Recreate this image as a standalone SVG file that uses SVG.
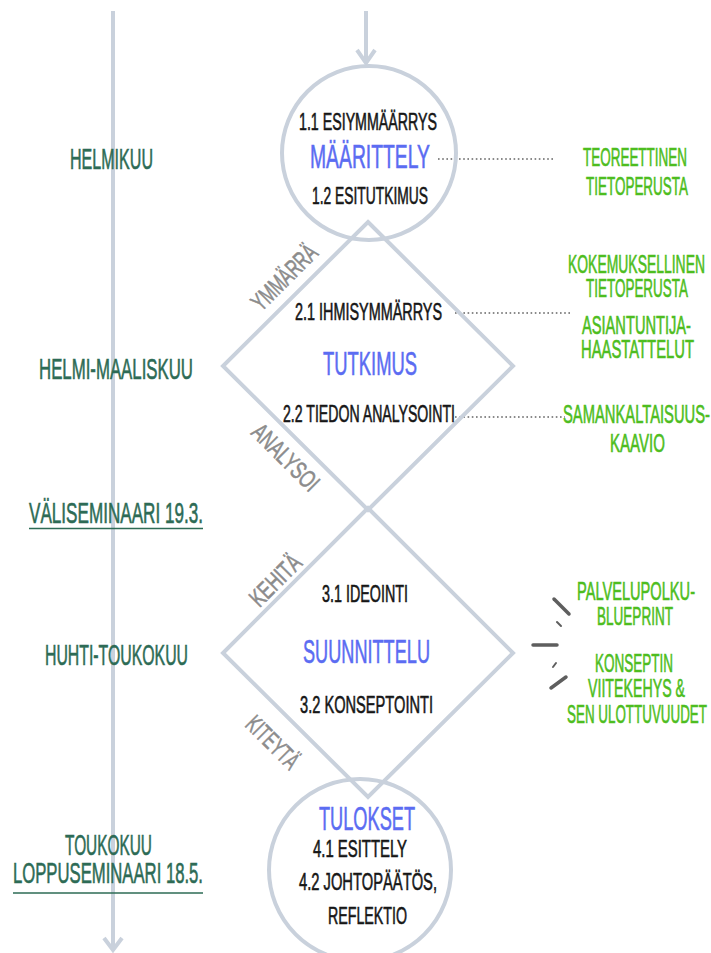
<svg xmlns="http://www.w3.org/2000/svg" width="711" height="953" viewBox="0 0 711 953">
  <style>
    text { font-family: "Liberation Sans Narrow", "Liberation Sans", Arial, sans-serif; text-anchor: middle; stroke-width: 0.6; }
    .frame { fill: none; stroke: #c9d1dc; stroke-width: 4; stroke-linejoin: miter; }
    .dots { stroke: #8a8a8a; stroke-width: 2; stroke-dasharray: 1.6 2.6; fill: none; }
    .tick { stroke: #5e5e5e; stroke-linecap: round; fill: none; }
    .blk { fill: #161616; stroke: #161616; font-size: 24px; }
    .blu { fill: #5b6cf2; stroke: #5b6cf2; font-size: 34px; }
    .grn { fill: #4dbd20; stroke: #4dbd20; font-size: 25px; }
    .dg { fill: #2d6b55; stroke: #2d6b55; font-size: 29px; }
    .gry { fill: #8c8c8c; stroke: #8c8c8c; font-size: 25px; }
    .ul { stroke: #2d6b55; stroke-width: 1.6; }
  </style>

  <!-- timeline and flow connectors -->
  <g id="connectors">
    <line class="frame" x1="113" y1="11" x2="113" y2="950"/>
    <polyline class="frame" points="104,938 113,950 122,938"/>
    <line class="frame" x1="366" y1="11" x2="366" y2="63"/>
    <polyline class="frame" points="357,50 366,63 375,50"/>
    <line class="dots" x1="438" y1="159" x2="553" y2="159"/>
    <line class="dots" x1="455" y1="313" x2="570" y2="313"/>
    <line class="dots" x1="455" y1="417" x2="565" y2="417"/>
    <line class="tick" stroke-width="3.5" x1="554" y1="599" x2="569" y2="614"/>
    <line class="tick" stroke-width="2" x1="557" y1="622" x2="561" y2="626"/>
    <line class="tick" stroke-width="3.5" x1="533" y1="645" x2="557" y2="645"/>
    <line class="tick" stroke-width="2" x1="553" y1="667" x2="556" y2="663"/>
    <line class="tick" stroke-width="3.5" x1="551" y1="688" x2="566" y2="677"/>
  </g>

  <!-- month labels -->
  <g id="months">
    <text class="dg" x="111.5" y="169" textLength="83" lengthAdjust="spacingAndGlyphs">HELMIKUU</text>
    <text class="dg" x="116" y="379" textLength="154" lengthAdjust="spacingAndGlyphs">HELMI-MAALISKUU</text>
    <text class="dg" x="116" y="523" textLength="174" lengthAdjust="spacingAndGlyphs">VÄLISEMINAARI 19.3.</text>
    <line class="ul" x1="29" y1="528.5" x2="203" y2="528.5"/>
    <text class="dg" x="116.5" y="665" textLength="143" lengthAdjust="spacingAndGlyphs">HUHTI-TOUKOKUU</text>
    <text class="dg" x="108.5" y="855" textLength="87" lengthAdjust="spacingAndGlyphs">TOUKOKUU</text>
    <text class="dg" x="108" y="883" textLength="190" lengthAdjust="spacingAndGlyphs">LOPPUSEMINAARI 18.5.</text>
    <line class="ul" x1="13" y1="893" x2="203" y2="893"/>
  </g>

  <!-- phase 1: definition -->
  <g id="maarittely">
    <circle class="frame" cx="369" cy="153" r="87"/>
    <text class="blk" x="368" y="130" textLength="138" lengthAdjust="spacingAndGlyphs">1.1 ESIYMMÄÄRRYS</text>
    <text class="blu" x="370" y="168" font-size="32" textLength="120" lengthAdjust="spacingAndGlyphs">MÄÄRITTELY</text>
    <text class="blk" x="370" y="204" textLength="116" lengthAdjust="spacingAndGlyphs">1.2 ESITUTKIMUS</text>
  </g>

  <!-- phase 2: research -->
  <g id="tutkimus">
    <polygon class="frame" points="368,222 513,366 368,510 223,366"/>
    <text class="gry" transform="translate(284,277) rotate(-45)" x="0" y="9" textLength="82" lengthAdjust="spacingAndGlyphs">YMMÄRRÄ</text>
    <text class="gry" transform="translate(286,457) rotate(45)" x="0" y="9" textLength="84" lengthAdjust="spacingAndGlyphs">ANALYSOI</text>
    <text class="blk" x="368.5" y="320" textLength="147" lengthAdjust="spacingAndGlyphs">2.1 IHMISYMMÄRRYS</text>
    <text class="blu" x="370" y="375" textLength="94" lengthAdjust="spacingAndGlyphs">TUTKIMUS</text>
    <text class="blk" x="369" y="422" font-size="25" textLength="172" lengthAdjust="spacingAndGlyphs">2.2 TIEDON ANALYSOINTI</text>
  </g>

  <!-- phase 3: design -->
  <g id="suunnittelu">
    <polygon class="frame" points="368,508 513,653 368,797 223,653"/>
    <text class="gry" transform="translate(275,580) rotate(-45)" x="0" y="9" textLength="62" lengthAdjust="spacingAndGlyphs">KEHITÄ</text>
    <text class="gry" transform="translate(273,742) rotate(45)" x="0" y="9" textLength="64" lengthAdjust="spacingAndGlyphs">KITEYTÄ</text>
    <text class="blk" x="365" y="602" font-size="25" textLength="86" lengthAdjust="spacingAndGlyphs">3.1 IDEOINTI</text>
    <text class="blu" x="366.5" y="663" textLength="127" lengthAdjust="spacingAndGlyphs">SUUNNITTELU</text>
    <text class="blk" x="366.5" y="713" font-size="25" textLength="133" lengthAdjust="spacingAndGlyphs">3.2 KONSEPTOINTI</text>
  </g>

  <!-- phase 4: results -->
  <g id="tulokset">
    <circle class="frame" cx="360" cy="870" r="91"/>
    <text class="blu" x="367" y="830" textLength="96" lengthAdjust="spacingAndGlyphs">TULOKSET</text>
    <text class="blk" x="360" y="857" textLength="94" lengthAdjust="spacingAndGlyphs">4.1 ESITTELY</text>
    <text class="blk" x="368" y="890" textLength="138" lengthAdjust="spacingAndGlyphs">4.2 JOHTOPÄÄTÖS,</text>
    <text class="blk" x="367.5" y="924" textLength="79" lengthAdjust="spacingAndGlyphs">REFLEKTIO</text>
  </g>

  <!-- knowledge sources and outputs -->
  <g id="teoreettinen">
    <text class="grn" x="635" y="166" textLength="104" lengthAdjust="spacingAndGlyphs">TEOREETTINEN</text>
    <text class="grn" x="637" y="195" textLength="102" lengthAdjust="spacingAndGlyphs">TIETOPERUSTA</text>
  </g>
  <g id="kokemuksellinen">
    <text class="grn" x="636.5" y="273" textLength="137" lengthAdjust="spacingAndGlyphs">KOKEMUKSELLINEN</text>
    <text class="grn" x="637" y="297" textLength="102" lengthAdjust="spacingAndGlyphs">TIETOPERUSTA</text>
  </g>
  <g id="haastattelut">
    <text class="grn" x="636.5" y="334" textLength="109" lengthAdjust="spacingAndGlyphs">ASIANTUNTIJA-</text>
    <text class="grn" x="637.5" y="358" textLength="113" lengthAdjust="spacingAndGlyphs">HAASTATTELUT</text>
  </g>
  <g id="kaavio">
    <text class="grn" x="636.5" y="423" textLength="147" lengthAdjust="spacingAndGlyphs">SAMANKALTAISUUS-</text>
    <text class="grn" x="637.5" y="452" textLength="55" lengthAdjust="spacingAndGlyphs">KAAVIO</text>
  </g>
  <g id="blueprint">
    <text class="grn" x="636" y="600" textLength="118" lengthAdjust="spacingAndGlyphs">PALVELUPOLKU-</text>
    <text class="grn" x="635" y="625" textLength="76" lengthAdjust="spacingAndGlyphs">BLUEPRINT</text>
  </g>
  <g id="viitekehys">
    <text class="grn" x="634" y="672" textLength="78" lengthAdjust="spacingAndGlyphs">KONSEPTIN</text>
    <text class="grn" x="636.5" y="697" textLength="97" lengthAdjust="spacingAndGlyphs">VIITEKEHYS &amp;</text>
    <text class="grn" x="637" y="723" textLength="140" lengthAdjust="spacingAndGlyphs">SEN ULOTTUVUUDET</text>
  </g>
</svg>
